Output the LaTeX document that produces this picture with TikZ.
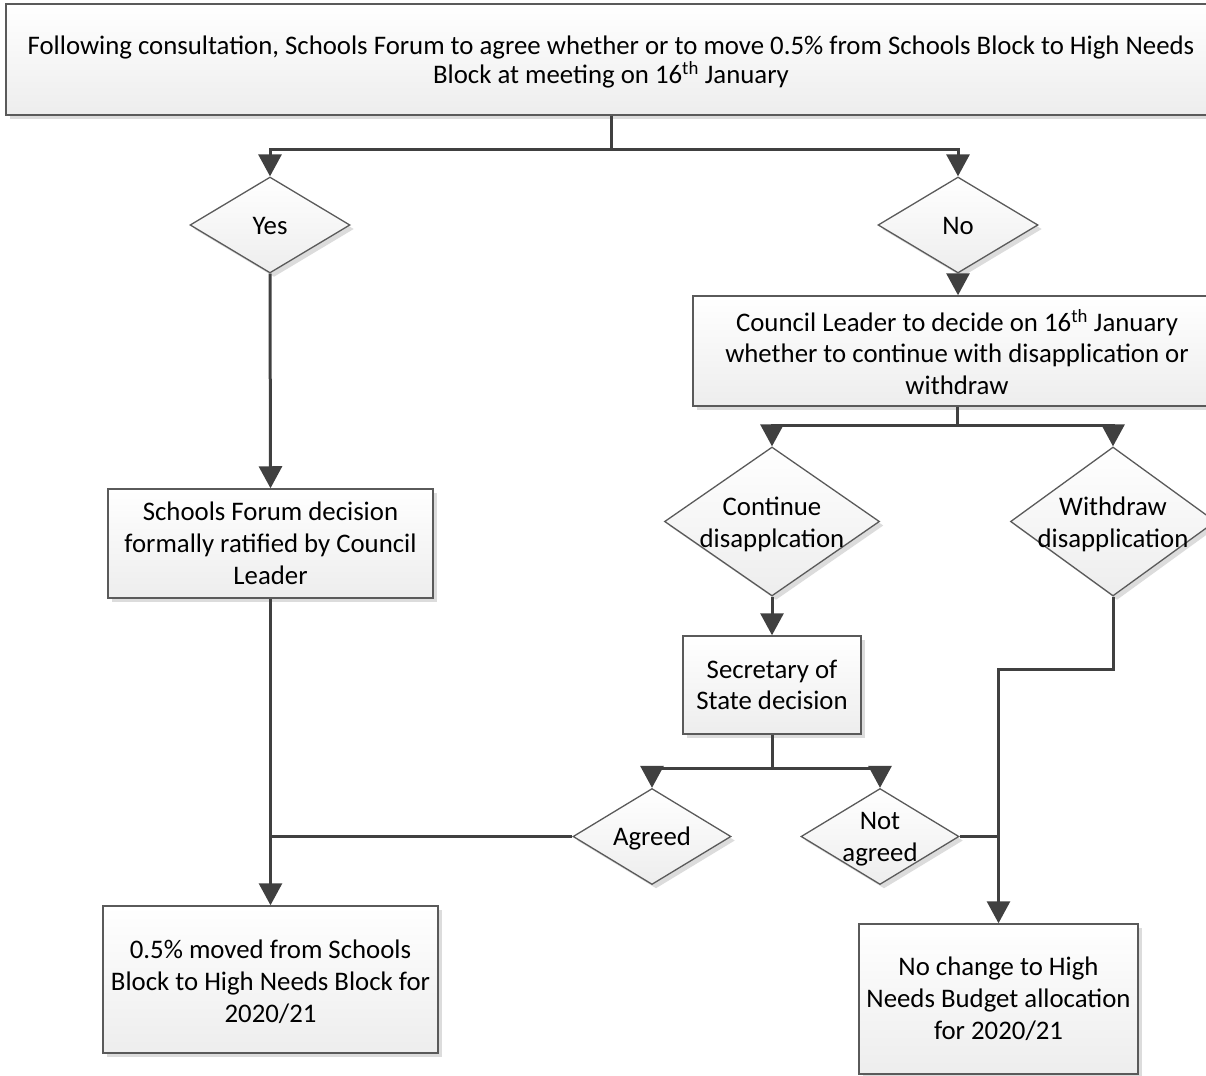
\documentclass[tikz,border=0pt]{standalone}
\usepackage{fontspec}
\setmainfont{Carlito}
\usetikzlibrary{shapes.geometric,arrows.meta,shadows}
\definecolor{linec}{HTML}{404040}
\definecolor{borderc}{HTML}{5A5A5A}
\definecolor{shadc}{HTML}{DCDCDC}
\begin{document}
\begin{tikzpicture}[x=1pt,y=-1pt,
  every node/.style={font=\fontsize{26.8}{31.8}\selectfont, text=black},
  boxst/.style={rectangle, draw=borderc, line width=1.5pt, top color=white, bottom color=black!7,
    drop shadow={shadow xshift=4pt, shadow yshift=-4pt, fill=shadc, opacity=1},
    align=center, inner sep=0pt},
  dia/.style={diamond, draw=borderc, line width=1.3pt, top color=white, bottom color=black!7,
    drop shadow={shadow xshift=4pt, shadow yshift=-4pt, fill=shadc, opacity=1},
    inner sep=0pt},
  lbl/.style={align=center, inner sep=0pt},
  conn/.style={draw=linec, line width=3pt},
  arr/.style={conn, -{Triangle[width=23pt,length=22pt]}}
]
\useasboundingbox (0,0) rectangle (1206,1075);
\clip (0,0) rectangle (1206,1075);
% boxes
\node[boxst, minimum width=1240pt, minimum height=111pt] (top) at (626,59.5) {};
\node[lbl] (topt) at (611,62)
  {Following consultation, Schools Forum to agree whether or to move 0.5\% from Schools Block to High Needs\\[-2.5pt]
   Block at meeting on 16\textsuperscript{th} January};
\node[boxst, minimum width=550pt, minimum height=110pt] (council) at (968,351) {};
\node[lbl] (councilt) at (957,352)
  {Council Leader to decide on 16\textsuperscript{th} January\\ whether to continue with disapplication or\\ withdraw};
\node[boxst, minimum width=325pt, minimum height=109pt] (sf) at (270.5,543.5)
  {Schools Forum decision\\ formally ratified by Council\\ Leader};
\node[boxst, minimum width=335pt, minimum height=147pt] (half) at (270.5,979.5) {};
\node[lbl] (halft) at (270.5,981.5)
  {0.5\% moved from Schools\\ Block to High Needs Block for\\ 2020/21};
\node[boxst, minimum width=178pt, minimum height=98pt] (sec) at (772,685)
  {Secretary of\\ State decision};
\node[boxst, minimum width=279pt, minimum height=150pt] (noch) at (998.5,999)
  {No change to High\\ Needs Budget allocation\\ for 2020/21};
% diamonds
\node[dia, minimum width=160pt, minimum height=96pt] (yes) at (270,225) {};
\node[lbl] (yest) at (270,226) {Yes};
\node[dia, minimum width=160pt, minimum height=96pt] (no) at (958,225) {};
\node[lbl] (not) at (958,226) {No};
\node[dia, minimum width=215pt, minimum height=149pt] (cont) at (772,521.5) {};
\node[lbl] (contt) at (772,524.5) {Continue\\ disapplcation};
\node[dia, minimum width=205pt, minimum height=149pt] (withd) at (1113,521.5) {};
\node[lbl] (withdt) at (1113,524.5) {Withdraw\\ disapplication};
\node[dia, minimum width=158pt, minimum height=96pt] (agreed) at (652,836.5) {};
\node[lbl] (agreedt) at (652,838) {Agreed};
\node[dia, minimum width=158pt, minimum height=96pt] (notag) at (880,836.5) {};
\node[lbl] (notagt) at (880,839.5) {Not\\ agreed};
% junctions
\coordinate (j1) at (611,150);
\coordinate (j2) at (957,425);
\coordinate (j3) at (772,768);
\coordinate (j4) at (1113,669);
% connectors
\draw[arr] (top.south -| j1) -- (j1) -| (yes.north);
\draw[arr] (j1) -| (no.north);
\draw[arr] (no.south) -- (council.north -| no.south);
\draw[arr] (council.south -| j2) -- (j2) -| (cont.north);
\draw[arr] (j2) -| (withd.north);
\draw[arr] (cont.south) -- (sec.north);
\draw[arr] (sec.south) -- (j3) -| (agreed.north);
\draw[arr] (j3) -| (notag.north);
\draw[arr] (yes.south) -- (sf.north);
\draw[arr] (sf.south) -- (half.north);
\draw[conn] (agreed.west) -- (sf.south |- agreed.west);
\draw[arr] (withd.south) -- (j4) -| (noch.north);
\draw[conn] (notag.east) -- (noch.north |- notag.east);
\end{tikzpicture}
\end{document}
